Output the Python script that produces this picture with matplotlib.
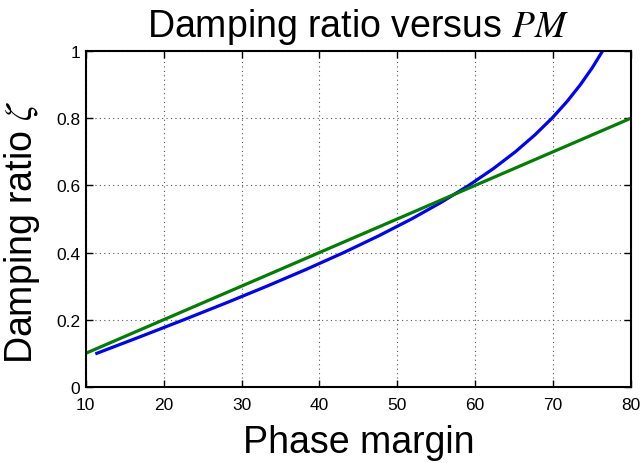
import numpy as np
import matplotlib
matplotlib.use("Agg")
import matplotlib.pyplot as plt

plt.rcParams['font.family'] = ['Liberation Sans', 'DejaVu Sans']
plt.rcParams['mathtext.fontset'] = 'stix'

# exact curve: phase margin (deg) for each damping ratio
zeta_exact = [0.1, 0.15, 0.2, 0.25, 0.3, 0.35, 0.4, 0.45, 0.5, 0.55,
              0.6, 0.65, 0.7, 0.75, 0.8, 0.85, 0.9, 0.95, 1.0]
pm_exact = [11.42, 17.06, 22.6, 28.02, 33.27, 38.32, 43.13, 47.63, 51.83, 55.68,
            59.18, 62.34, 65.16, 67.65, 69.86, 71.80, 73.51, 75.02, 76.35]

# linear approximation zeta ~ PM/100
pm_approx = [10, 80]
zeta_approx = [0.1, 0.8]

fig = plt.figure(figsize=(6.4, 4.64), dpi=100)
ax = fig.add_axes([0.134, 0.164, 0.852, 0.724])

ax.plot(pm_exact, zeta_exact, color='#0000ff', lw=2.3)
ax.plot(pm_approx, zeta_approx, color='#007f00', lw=2.3)

ax.set_xlim(10, 80)
ax.set_ylim(0, 1)
ax.set_xticks([10, 20, 30, 40, 50, 60, 70, 80])
ax.set_yticks([0, 0.2, 0.4, 0.6, 0.8, 1])
ax.set_yticklabels(['0', '0.2', '0.4', '0.6', '0.8', '1'])
ax.grid(True, linestyle=(0, (1, 3)), color='#555555', lw=0.8)
ax.tick_params(direction='in', top=True, right=True, labelsize=12.5, length=5, width=1)
ax.tick_params(axis='x', pad=7)
ax.tick_params(axis='y', pad=4)
for s in ax.spines.values():
    s.set_linewidth(1.5)

ax.set_title(r'Damping ratio versus $PM$', fontsize=27, pad=11)
ax.set_xlabel('Phase margin', fontsize=27, labelpad=9)
ax.set_ylabel(r'Damping ratio $\zeta$', fontsize=27)
ax.yaxis.set_label_coords(-0.08, 0.465)

fig.savefig('out.png', dpi=100)
